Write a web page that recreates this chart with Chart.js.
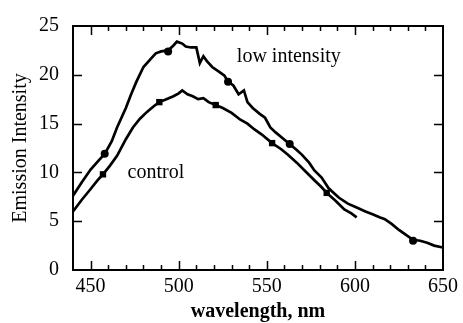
<!DOCTYPE html>
<html>
<head>
<meta charset="utf-8">
<script src="https://cdn.jsdelivr.net/npm/chart.js@4"></script>
<style>
html, body { margin: 0; padding: 0; background: #fff; }
#wrap { width: 463px; height: 323px; }
</style>
</head>
<body>
<div id="wrap"><canvas id="chart" width="463" height="323"></canvas></div>
<script>
// 讀圖估計的資料
const lowWave = [440, 445, 450, 455, 458, 462, 465, 470, 473, 476, 480, 484, 487, 490, 494, 497, 499, 502, 504, 507, 510, 512, 514, 516, 519, 523, 526, 528, 531, 534, 537, 539, 542, 546, 549, 552, 555, 559, 563, 567, 570, 574, 577, 581, 585, 588, 591, 596, 601, 606, 610, 614, 617, 621, 625, 629, 633, 637, 641, 645, 650];
const lowVal  = [7.6, 9.0, 10.3, 11.3, 11.9, 13.2, 14.6, 16.6, 18.0, 19.3, 20.8, 21.6, 22.2, 22.4, 22.5, 23.0, 23.4, 23.2, 22.9, 22.8, 22.8, 21.2, 21.9, 21.4, 20.8, 20.3, 19.9, 19.3, 18.9, 18.0, 18.4, 17.2, 16.6, 16.0, 15.6, 14.6, 14.1, 13.5, 12.9, 12.3, 11.8, 11.0, 10.2, 9.5, 8.4, 7.9, 7.4, 6.8, 6.4, 6.0, 5.7, 5.4, 5.2, 4.7, 4.1, 3.6, 3.1, 3.0, 2.8, 2.5, 2.3];
const ctrlWave = [440, 445, 450, 454, 457, 461, 465, 470, 474, 478, 482, 486, 489, 493, 497, 500, 502, 505, 508, 511, 514, 517, 521, 525, 530, 535, 539, 543, 547, 553, 558, 562, 567, 572, 577, 581, 584, 589, 594, 598, 601];
const ctrlVal  = [6.0, 7.2, 8.3, 9.2, 9.8, 10.7, 11.7, 13.4, 14.6, 15.5, 16.2, 16.8, 17.2, 17.5, 17.8, 18.1, 18.4, 18.0, 17.8, 17.5, 17.6, 17.2, 16.9, 16.6, 16.1, 15.4, 15.0, 14.4, 13.9, 13.0, 12.4, 11.8, 11.0, 10.1, 9.2, 8.5, 7.9, 7.1, 6.2, 5.8, 5.4];
const lowMarkWave = [458, 494, 528, 563, 633];
const lowMarkVal  = [11.9, 22.4, 19.3, 12.9, 3.0];
const ctrlMarkWave = [457, 489, 521, 553, 584];
const ctrlMarkVal  = [9.8, 17.2, 16.9, 13.0, 7.9];
const xTickValues = [450, 500, 550, 600, 650];
const yTickValues = [0, 5, 10, 15, 20, 25];

const toPts = (xs, ys) => xs.map((x, i) => ({ x: x, y: ys[i] }));
const serif = "'Liberation Serif', 'DejaVu Serif', serif";

// 內向刻度、外框與曲線標籤
const framePlugin = {
    id: 'frame',
    afterDatasetsDraw(chart) {
        const ctx = chart.ctx;
        const a = chart.chartArea;
        const xs = chart.scales.x;
        const ys = chart.scales.y;
        ctx.save();
        ctx.strokeStyle = '#000';
        ctx.lineWidth = 2;
        ctx.strokeRect(a.left, a.top, a.right - a.left, a.bottom - a.top);
        ctx.lineWidth = 1.5;
        ctx.beginPath();
        for (let v = 450; v < 650; v += 10) {
            const px = Math.round(xs.getPixelForValue(v)) + 0.5;
            const len = (v % 50 === 0) ? 9 : 5;
            ctx.moveTo(px, a.bottom); ctx.lineTo(px, a.bottom - len);
            ctx.moveTo(px, a.top); ctx.lineTo(px, a.top + len);
        }
        for (let v = 5; v < 25; v += 5) {
            const py = Math.round(ys.getPixelForValue(v)) + 0.5;
            ctx.moveTo(a.left, py); ctx.lineTo(a.left + 9, py);
            ctx.moveTo(a.right, py); ctx.lineTo(a.right - 9, py);
        }
        ctx.stroke();
        ctx.fillStyle = '#000';
        ctx.font = '20px ' + serif;
        ctx.textBaseline = 'middle';
        ctx.textAlign = 'left';
        ctx.fillText('low intensity', xs.getPixelForValue(533), ys.getPixelForValue(21.8));
        ctx.fillText('control', xs.getPixelForValue(471), ys.getPixelForValue(10));
        ctx.restore();
    }
};

new Chart(document.getElementById('chart'), {
    type: 'line',
    data: {
        datasets: [
            {
                label: 'low intensity',
                data: toPts(lowWave, lowVal),
                borderColor: '#000',
                borderWidth: 2.7,
                pointRadius: 0,
                tension: 0
            },
            {
                label: 'control',
                data: toPts(ctrlWave, ctrlVal),
                borderColor: '#000',
                borderWidth: 2.7,
                pointRadius: 0,
                tension: 0
            },
            {
                label: 'low marks',
                data: toPts(lowMarkWave, lowMarkVal),
                showLine: false,
                pointStyle: 'circle',
                pointRadius: 4,
                pointBackgroundColor: '#000',
                pointBorderWidth: 0
            },
            {
                label: 'control marks',
                data: toPts(ctrlMarkWave, ctrlMarkVal),
                showLine: false,
                pointStyle: 'rect',
                pointRadius: 4.5,
                pointBackgroundColor: '#000',
                pointBorderWidth: 0
            }
        ]
    },
    options: {
        responsive: false,
        animation: false,
        devicePixelRatio: 1,
        layout: { padding: { top: 22, right: 17, left: 0, bottom: 0 } },
        plugins: {
            legend: { display: false },
            tooltip: { enabled: false }
        },
        scales: {
            x: {
                type: 'linear',
                min: 440,
                max: 650,
                grid: { display: false, drawTicks: false },
                border: { display: false },
                afterBuildTicks: s => { s.ticks = xTickValues.map(v => ({ value: v })); },
                afterFit: s => { s.height = 53; },
                ticks: {
                    color: '#000',
                    padding: 5,
                    maxRotation: 0,
                    font: { family: serif, size: 20 }
                },
                title: {
                    display: true,
                    text: 'wavelength, nm',
                    color: '#000',
                    padding: { top: 0, bottom: -1 },
                    font: { family: serif, size: 20, weight: 'bold' }
                }
            },
            y: {
                type: 'linear',
                min: 0,
                max: 25,
                grid: { display: false, drawTicks: false },
                border: { display: false },
                afterBuildTicks: s => { s.ticks = yTickValues.map(v => ({ value: v })); },
                afterFit: s => { s.width = 73; },
                ticks: {
                    color: '#000',
                    padding: 14,
                    font: { family: serif, size: 20 }
                },
                title: {
                    display: true,
                    text: 'Emission Intensity',
                    color: '#000',
                    padding: { top: 9, bottom: 0 },
                    font: { family: serif, size: 20 }
                }
            }
        }
    },
    plugins: [framePlugin]
});
</script>
</body>
</html>
